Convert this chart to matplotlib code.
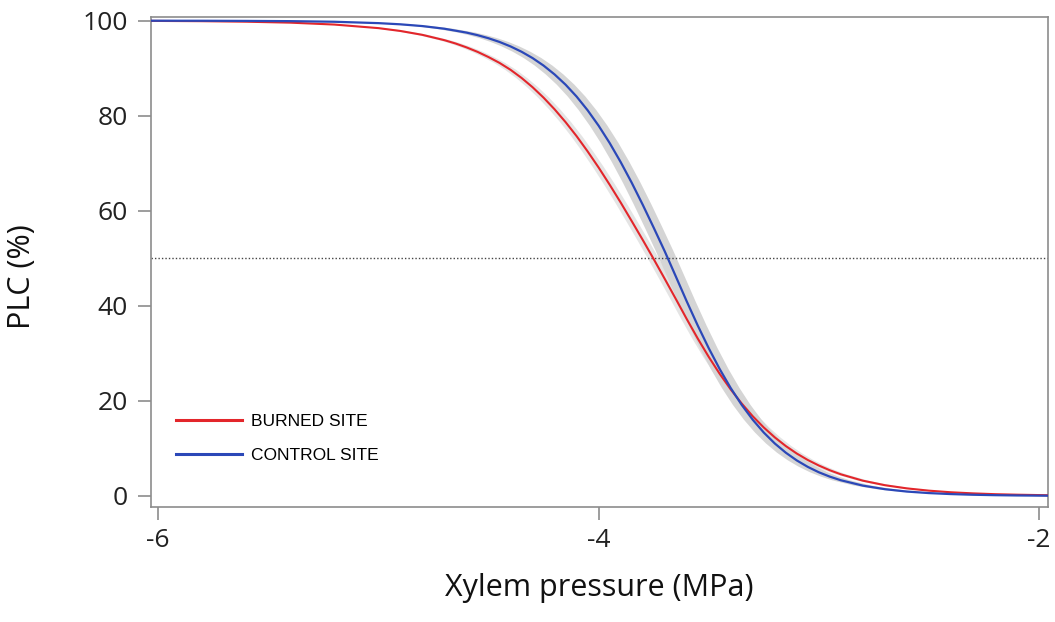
import numpy as np
import matplotlib.pyplot as plt
from matplotlib.lines import Line2D

# vulnerability curves: PLC (%) against xylem pressure (MPa)
burned_p = [-6.03, -5.8, -5.6, -5.4, -5.2, -5.0, -4.9, -4.8, -4.7, -4.65, -4.6, -4.55,
            -4.5, -4.45, -4.4, -4.35, -4.3, -4.25, -4.2, -4.15, -4.1, -4.05, -4.0,
            -3.95, -3.9, -3.85, -3.8, -3.75, -3.7, -3.65, -3.6, -3.55, -3.5, -3.45,
            -3.4, -3.35, -3.3, -3.25, -3.2, -3.15, -3.1, -3.05, -3.0, -2.95, -2.9,
            -2.8, -2.7, -2.6, -2.5, -2.4, -2.3, -2.2, -2.1, -1.96]
burned_plc = [99.95, 99.89, 99.78, 99.58, 99.18, 98.43, 97.83, 97.01, 95.89, 95.20, 94.38, 93.44,
              92.34, 91.11, 89.66, 87.95, 86.0, 83.8, 81.35, 78.65, 75.7, 72.5, 69.1,
              65.5, 61.75, 57.85, 53.9, 49.85, 45.7, 41.5, 37.24, 33.14, 29.27, 25.69,
              22.41, 19.44, 16.77, 14.41, 12.33, 10.51, 8.93, 7.57, 6.41, 5.41, 4.56,
              3.22, 2.27, 1.60, 1.12, 0.78, 0.55, 0.38, 0.27, 0.16]

control_p = [-6.03, -5.8, -5.6, -5.4, -5.2, -5.0, -4.9, -4.8, -4.7, -4.6, -4.55,
             -4.5, -4.45, -4.4, -4.35, -4.3, -4.25, -4.2, -4.15, -4.1, -4.05, -4.0,
             -3.95, -3.9, -3.85, -3.8, -3.75, -3.7, -3.65, -3.6, -3.55, -3.5, -3.45,
             -3.4, -3.35, -3.3, -3.25, -3.2, -3.15, -3.1, -3.05, -3.0, -2.95, -2.9,
             -2.8, -2.7, -2.6, -2.5, -2.4, -2.3, -2.2, -2.1, -1.96]
control_plc = [99.99, 99.98, 99.95, 99.90, 99.77, 99.48, 99.23, 98.86, 98.30, 97.49, 96.95,
               96.30, 95.52, 94.58, 93.46, 92.13, 90.55, 88.69, 86.53, 84.03, 81.15, 77.90,
               74.27, 70.26, 65.93, 61.30, 56.46, 51.50, 46.25, 40.96, 35.88, 31.10, 26.69,
               22.70, 19.15, 16.04, 13.35, 11.05, 9.11, 7.48, 6.12, 4.99, 4.07, 3.31,
               2.18, 1.43, 0.93, 0.61, 0.40, 0.26, 0.17, 0.11, 0.06]

# half-width of the confidence band along the pressure axis (MPa)
burned_ci = 0.025
control_ci = 0.04

site_labels = ['BURNED SITE', 'CONTROL SITE']
x_ticks = [-6, -4, -2]
y_ticks = [0, 20, 40, 60, 80, 100]

red = '#e3262b'
blue = '#2b48b8'

fig = plt.figure(figsize=(10.55, 6.22), dpi=100)
ax = fig.add_axes([0.1431, 0.1854, 0.8503, 0.7878])


def band(p, plc, hw, color):
    p = np.asarray(p)
    plc = np.asarray(plc)
    ax.fill(np.r_[p - hw, (p + hw)[::-1]], np.r_[plc, plc[::-1]],
            color=color, lw=0, zorder=1)


band(burned_p, burned_plc, burned_ci, '#e4e4e4')
band(control_p, control_plc, control_ci, '#d5d5d5')

ax.axhline(50, color='#444444', lw=1.0, ls=(0, (1, 1.5)), zorder=2)

ax.plot(burned_p, burned_plc, color=red, lw=1.5, zorder=3)
ax.plot(control_p, control_plc, color=blue, lw=1.6, zorder=4)

ax.set_xlim(-6.033, -1.959)
ax.set_ylim(-2.25, 100.84)
ax.set_xticks(x_ticks)
ax.set_xticklabels([str(t) for t in x_ticks])
ax.set_yticks(y_ticks)

for s in ax.spines.values():
    s.set_color('#8c8c8c')
    s.set_linewidth(1.2)
ax.tick_params(direction='out', length=9.5, width=1.2, color='#8c8c8c',
               labelsize=19, labelcolor='#222222')
ax.tick_params(axis='x', pad=6)
ax.tick_params(axis='y', pad=7)
for lab in ax.get_xticklabels() + ax.get_yticklabels():
    lab.set_fontfamily('Open Sans')

ax.set_xlabel('Xylem pressure (MPa)', fontsize=22, family='Open Sans',
              color='#111111', labelpad=14)
ax.set_ylabel('PLC (%)', fontsize=22, family='Open Sans', color='#111111')
ax.yaxis.set_label_coords(-0.127, 0.47)

handles = [Line2D([], [], color=red, lw=2.2), Line2D([], [], color=blue, lw=2.2)]
ax.legend(handles, site_labels, loc='upper left', bbox_to_anchor=(0.028, 0.189),
          frameon=False, borderpad=0, borderaxespad=0, handlelength=3.8,
          handletextpad=0.5, labelspacing=1.1,
          prop={'family': 'Liberation Sans', 'size': 12.5})

fig.savefig('out.png', dpi=100)
